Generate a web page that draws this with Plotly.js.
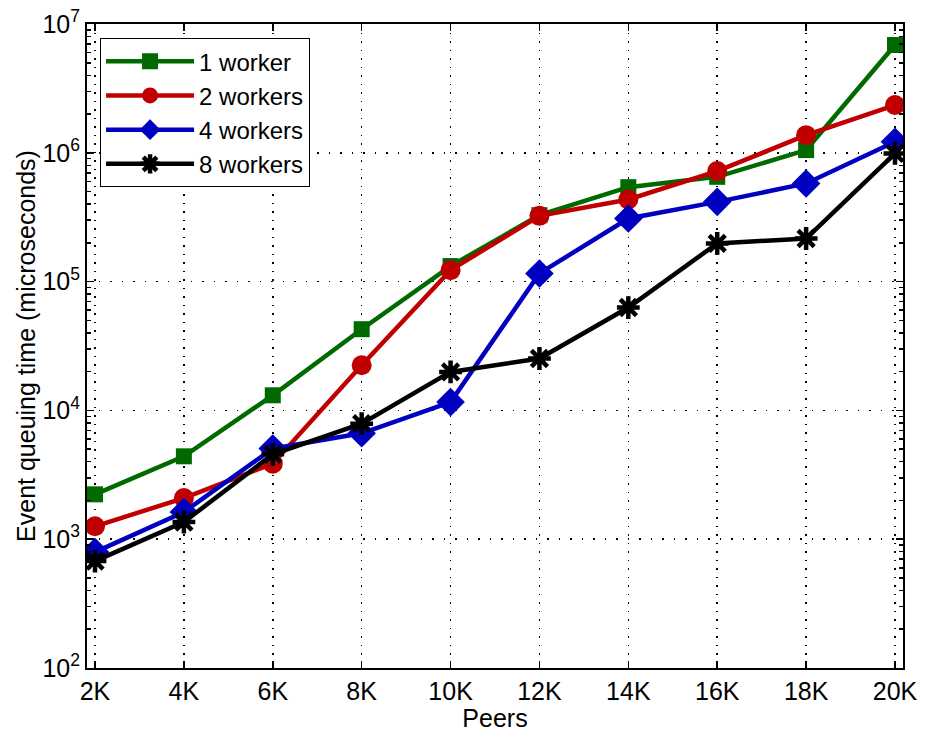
<!DOCTYPE html>
<html>
<head>
<meta charset="utf-8">
<script src="https://cdn.plot.ly/plotly-3.0.1.min.js"></script>
<style>html,body{margin:0;padding:0;background:#fff}</style>
</head>
<body>
<div id="chart" style="width:925px;height:732px"></div>
<script>
const peers = [2000, 4000, 6000, 8000, 10000, 12000, 14000, 16000, 18000, 20000];
const xTickLabels = ['2K','4K','6K','8K','10K','12K','14K','16K','18K','20K'];
const oneWorker   = [2230, 4400, 13100, 42700, 132000, 328000, 541000, 651000, 1050000, 6870000];
const twoWorkers  = [1260, 2085, 3860, 22400, 122700, 324000, 434000, 721000, 1370000, 2350000];
const fourWorkers = [794, 1625, 5050, 6640, 11600, 115700, 309000, 416000, 578000, 1220000];
const eightWorkers= [676, 1360, 4560, 7890, 19900, 25300, 62900, 198000, 216000, 989000];
const yTickVals = [1e2, 1e3, 1e4, 1e5, 1e6, 1e7];
const yTickText = ['10<sup>2</sup>','10<sup>3</sup>','10<sup>4</sup>','10<sup>5</sup>','10<sup>6</sup>','10<sup>7</sup>'];

const font = 'Liberation Sans, Arial, Helvetica, sans-serif';
const fs = 25;
function tr(name, y, color, symbol, size, extra) {
  const m = Object.assign({symbol: symbol, size: size, color: color, line: {width: 0, color: color}}, extra || {});
  return {x: peers, y: y, name: name, type: 'scatter', mode: 'lines+markers',
          line: {color: color, width: 4.5}, marker: m};
}
const data = [
  tr('1 worker', oneWorker, '#006a00', 'square', 16),
  tr('2 workers', twoWorkers, '#c00000', 'circle', 20),
  tr('4 workers', fourWorkers, '#0000c0', 'diamond', 22),
  tr('8 workers', eightWorkers, '#000000', 'asterisk-open', 19, {line: {width: 4.5, color: '#000000'}})
];
const layout = {
  width: 925, height: 732,
  margin: {l: 87, r: 22, t: 24, b: 64},
  paper_bgcolor: '#fff', plot_bgcolor: '#fff',
  font: {family: font, size: fs, color: '#000'},
  showlegend: true,
  legend: {x: 0.016, y: 0.978, xanchor: 'left', yanchor: 'top', bgcolor: '#fff',
           bordercolor: '#000', borderwidth: 1, font: {family: font, size: 24},
           tracegroupgap: 0, itemwidth: 88},
  xaxis: {
    range: [1820, 20180], tickvals: peers, ticktext: xTickLabels,
    ticks: 'inside', ticklen: 7, tickcolor: '#000', tickwidth: 1.5, mirror: 'allticks',
    showline: true, linecolor: '#000', linewidth: 2,
    showgrid: true, gridcolor: '#000', griddash: '1.5px,7px', gridwidth: 1.5,
    zeroline: false, tickfont: {family: font, size: fs},
    title: {text: 'Peers', font: {family: font, size: fs}, standoff: 0}
  },
  yaxis: {
    type: 'log', range: [2, 7], tickvals: yTickVals, ticktext: yTickText,
    ticks: 'inside', ticklen: 7, tickcolor: '#000', tickwidth: 1.5, mirror: 'allticks',
    showline: true, linecolor: '#000', linewidth: 2,
    showgrid: true, gridcolor: '#000', griddash: '1.5px,10px', gridwidth: 1.5,
    zeroline: false, tickfont: {family: font, size: fs},
    minor: {ticks: 'inside', ticklen: 4, tickcolor: '#000', tickwidth: 1.5, dtick: 'D1', showgrid: false},
    title: {text: 'Event queuing time (microseconds)', font: {family: font, size: fs}, standoff: 0}
  }
};
Plotly.newPlot('chart', data, layout, {displayModeBar: false, staticPlot: true});
</script>
</body>
</html>
